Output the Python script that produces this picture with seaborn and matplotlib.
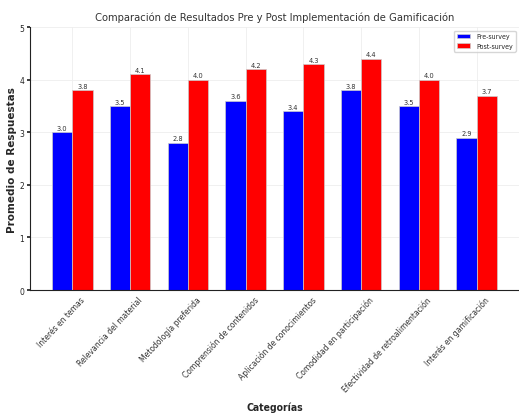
import matplotlib
matplotlib.use("Agg")
import matplotlib.pyplot as plt
import matplotlib.transforms as mtransforms
import seaborn as sns
import pandas as pd

categories = ["Interés en temas", "Relevancia del material", "Metodología preferida",
              "Comprensión de contenidos", "Aplicación de conocimientos",
              "Comodidad en participación", "Efectividad de retroalimentación",
              "Interés en gamificación"]
pre_survey = [3.0, 3.5, 2.8, 3.6, 3.4, 3.8, 3.5, 2.9]
post_survey = [3.8, 4.1, 4.0, 4.2, 4.3, 4.4, 4.0, 3.7]
series_names = ["Pre-survey", "Post-survey"]
colors = ["#0000ff", "#ff0000"]

df = pd.DataFrame({
    "Categoría": categories * 2,
    "Valor": pre_survey + post_survey,
    "Serie": [series_names[0]] * len(categories) + [series_names[1]] * len(categories),
})

sns.set_theme(style="whitegrid")
plt.rcParams['font.family'] = ['DejaVu Sans']

fig = plt.figure(figsize=(5.19, 4.14), dpi=100)
ax = fig.add_axes([0.0578, 0.297, 0.9422, 0.635])

sns.barplot(data=df, x="Categoría", y="Valor", hue="Serie", hue_order=series_names,
            palette=colors, width=0.7, saturation=1, ax=ax,
            edgecolor="#cccccc", linewidth=0.5, errorbar=None)

for cont in ax.containers:
    ax.bar_label(cont, fmt="%.1f", fontsize=5.3, padding=1, color="#333333",
                 fontstretch="condensed")

ax.set_xlim(-0.735, 7.735)
ax.set_ylim(0, 5)
ax.set_yticks([0, 1, 2, 3, 4, 5])
ax.set_title("Comparación de Resultados Pre y Post Implementación de Gamificación",
             fontsize=8, color="#333333", pad=5, fontstretch="condensed")
ax.set_xlabel("Categorías", fontsize=7.5, fontweight="bold", labelpad=6,
              fontstretch="condensed")
ax.set_ylabel("Promedio de Respuestas", fontsize=7.5, fontweight="bold", labelpad=2)
ax.tick_params(axis="x", labelsize=5.5, pad=1, length=0)
ax.tick_params(axis="y", labelsize=5.5, pad=2, length=2, left=True)
offset = mtransforms.ScaledTranslation(0.08, -0.035, fig.dpi_scale_trans)
for lbl in ax.get_xticklabels():
    lbl.set_ha("right")
    lbl.set_rotation(47)
    lbl.set_rotation_mode("anchor")
    lbl.set_color("#333333")
    lbl.set_transform(lbl.get_transform() + offset)
ax.grid(True, color="#eeeeee", linewidth=0.6)
for s in ["top", "right"]:
    ax.spines[s].set_visible(False)
for s in ["left", "bottom"]:
    ax.spines[s].set_color("#222222")
    ax.spines[s].set_linewidth(0.8)

ax.legend(loc="upper right", frameon=True, handlelength=2, handleheight=0.7,
          prop={"size": 5, "stretch": "condensed"})

fig.savefig("out.png", dpi=100)
